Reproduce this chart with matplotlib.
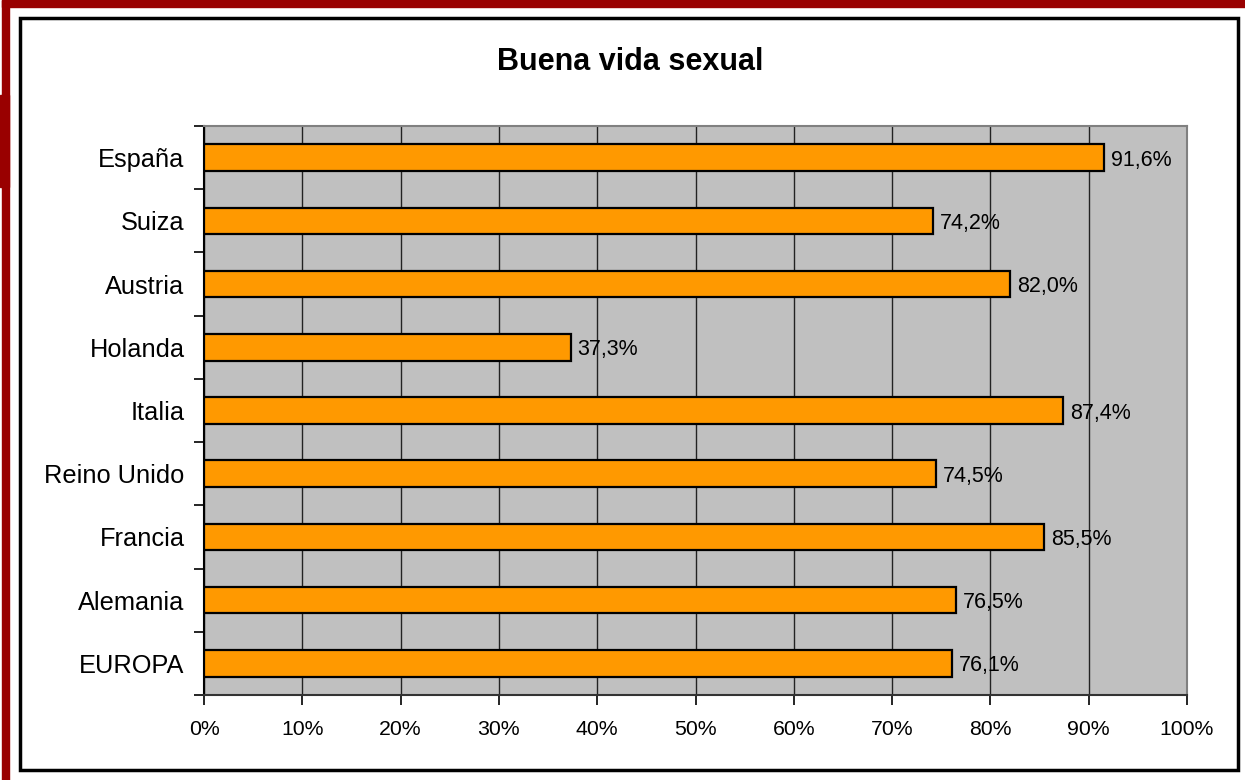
import matplotlib.pyplot as plt
from matplotlib.patches import Rectangle

paises = ['EUROPA', 'Alemania', 'Francia', 'Reino Unido', 'Italia', 'Holanda', 'Austria', 'Suiza', 'España']
valores = [76.1, 76.5, 85.5, 74.5, 87.4, 37.3, 82.0, 74.2, 91.6]
xticks = [0, 10, 20, 30, 40, 50, 60, 70, 80, 90, 100]
titulo = 'Buena vida sexual'

plt.rcParams['font.family'] = ['Liberation Sans', 'DejaVu Sans']

fig = plt.figure(figsize=(12.45, 7.8), dpi=100)
ax = fig.add_axes([204 / 1245, 1 - 695 / 780, (1187 - 204) / 1245, (695 - 126) / 780])

# red border bits and black frame
fig.patches.append(Rectangle((2 / 1245, 1 - 7 / 780), 1, 7 / 780, transform=fig.transFigure, color='#990000'))
fig.patches.append(Rectangle((2 / 1245, 0), 7 / 1245, 1, transform=fig.transFigure, color='#990000'))
fig.patches.append(Rectangle((0, 1 - 187 / 780), 9 / 1245, 92 / 780, transform=fig.transFigure, color='#990000'))
fig.patches.append(Rectangle((20 / 1245, 1 - 770 / 780), 1218 / 1245, 752 / 780, transform=fig.transFigure,
                             fill=False, edgecolor='black', linewidth=2.5))

ax.set_facecolor('#C0C0C0')
y = list(range(len(paises)))
ax.barh(y, valores, height=0.42, color='#FF9900', edgecolor='black', linewidth=1.6, zorder=3)
for yi, v in zip(y, valores):
    ax.text(v + 0.7, yi, f'{v:.1f}%'.replace('.', ','), va='center_baseline', ha='left', fontsize=15.5, zorder=4)

ax.set_xlim(0, 100)
ax.set_ylim(-0.5, len(paises) - 0.5)
ax.set_xticks(xticks)
ax.set_xticklabels([f'{t}%' for t in xticks], fontsize=15.3)
ax.xaxis.grid(True, color='#222222', linewidth=1)
ax.set_axisbelow(True)

ax.set_yticks([i - 0.5 for i in range(len(paises) + 1)])
ax.set_yticklabels([])
ax.set_yticks(y, minor=True)
ax.set_yticklabels(paises, minor=True, fontsize=18.3, va='center_baseline')
ax.tick_params(axis='y', which='minor', length=0, pad=14)
ax.tick_params(axis='y', which='major', length=7, width=1.2)
ax.tick_params(axis='x', length=7, width=1.2, pad=11)

ax.spines['left'].set_color('black')
ax.spines['left'].set_linewidth(1.5)
ax.spines['bottom'].set_color('#333333')
ax.spines['bottom'].set_linewidth(1.5)
ax.spines['top'].set_color('#808080')
ax.spines['right'].set_color('#808080')
ax.spines['top'].set_linewidth(1.5)
ax.spines['right'].set_linewidth(1.5)

fig.text(630 / 1245, 1 - 62 / 780, titulo, ha='center', va='center', fontsize=22, fontweight='bold')

fig.savefig('out.png', dpi=100)
